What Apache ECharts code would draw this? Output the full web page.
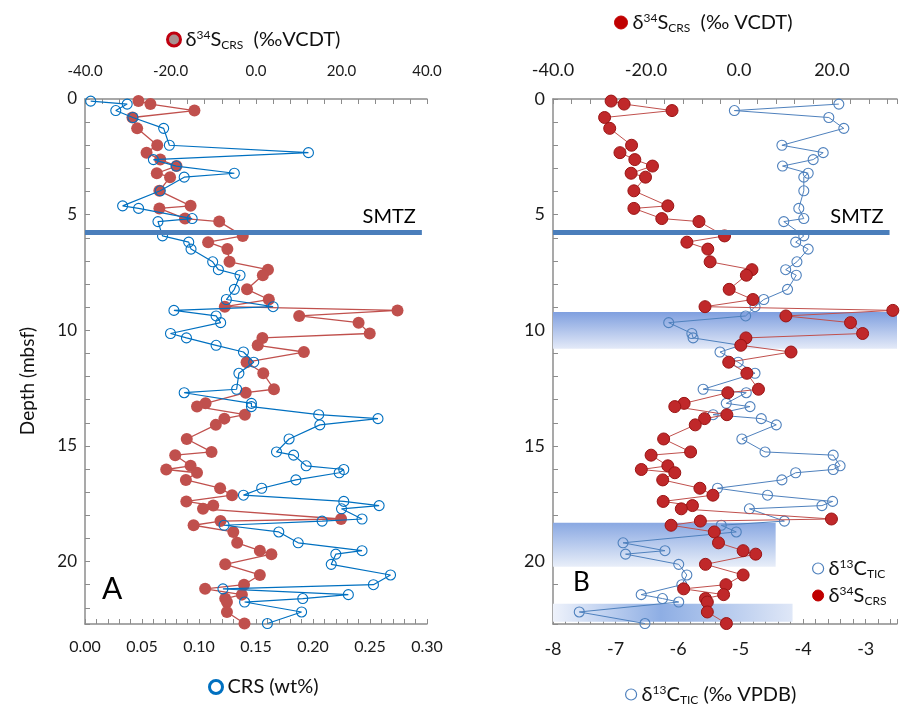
<!DOCTYPE html>
<html>
<head>
<meta charset="utf-8">
<title>Depth profiles A and B</title>
<script src="https://cdn.jsdelivr.net/npm/echarts@6/dist/echarts.min.js"></script>
<style>
  html, body { margin: 0; padding: 0; background: #fff; }
  #chart { width: 908px; height: 707px; }
</style>
</head>
<body>
<div id="chart"></div>
<script>
// sample depths (mbsf), shared by the d34S and CRS profiles
const depth = [0.09, 0.22, 0.5, 0.8, 1.27, 2.0, 2.32, 2.62, 2.9, 3.21,
    3.38, 3.97, 4.62, 4.73, 5.17, 5.3, 5.92, 6.19, 6.49, 7.04,
    7.38, 7.62, 8.23, 8.67, 8.98, 9.14, 9.38, 9.67, 10.14, 10.33,
    10.65, 10.94, 11.38, 11.86, 12.55, 12.7, 13.16, 13.3, 13.65, 13.82,
    14.09, 14.7, 15.26, 15.4, 15.86, 16.02, 16.16, 16.47, 16.83, 17.13,
    17.4, 17.58, 17.72, 18.16, 18.25, 18.43, 18.72, 19.19, 19.53, 19.68,
    20.12, 20.58, 21.0, 21.18, 21.43, 21.6, 21.75, 22.18, 22.68];

const d34S = [-27.5, -24.7, -14.4, -28.9, -27.8, -23.1, -25.6, -22.4, -18.6, -23.2,
    -20.1, -22.6, -15.3, -22.6, -16.6, -8.6, -3.1, -11.2, -6.7, -6.2,
    2.8, 1.6, -2.1, 3.0, -7.3, 33.1, 10.1, 24.0, 26.6, 1.5,
    0.4, 11.2, -2.2, 1.7, 4.2, -2.4, -11.8, -13.8, -2.6, -7.4,
    -9.4, -16.2, -10.4, -18.9, -15.3, -21.0, -13.8, -16.4, -8.4, -5.6,
    -16.3, -10.0, -12.4, 19.9, -8.3, -14.6, -5.3, -4.4, 0.9, 3.6,
    -7.2, 0.9, -2.8, -11.9, -3.3, -7.2, -6.8, -6.8, -2.7];

const crs = [0.005, 0.037, 0.027, 0.042, 0.069, 0.074, 0.196, 0.060, 0.080, 0.131,
    0.087, 0.066, 0.033, 0.047, 0.094, 0.064, 0.068, 0.091, 0.093, 0.112,
    0.117, 0.136, 0.131, 0.124, 0.165, 0.078, 0.115, 0.119, 0.075, 0.089,
    0.115, 0.139, 0.148, 0.135, 0.133, 0.087, 0.146, 0.146, 0.205, 0.257,
    0.206, 0.179, 0.168, 0.183, 0.194, 0.227, 0.223, 0.185, 0.155, 0.139,
    0.227, 0.258, 0.225, 0.243, 0.208, 0.122, 0.170, 0.187, 0.243, 0.220,
    0.216, 0.268, 0.253, 0.121, 0.231, 0.191, 0.140, 0.190, 0.160];

// d13C was not measured on every sample
const depthC = [0.22, 0.5, 0.8, 1.27, 2.0, 2.32, 2.62, 2.9, 3.21, 3.38,
    3.97, 4.73, 5.17, 5.3, 5.92, 6.19, 6.49, 7.04, 7.38, 7.62,
    8.23, 8.67, 8.98, 9.38, 9.67, 10.14, 10.33, 10.65, 10.94, 11.38,
    11.86, 12.55, 12.7, 13.16, 13.3, 13.65, 13.82, 14.09, 14.7, 15.26,
    15.4, 15.86, 16.02, 16.16, 16.47, 16.83, 17.13, 17.4, 17.58, 17.72,
    18.25, 18.43, 18.72, 19.19, 19.53, 19.68, 20.12, 20.58, 21.0, 21.43,
    21.6, 21.75, 22.18, 22.68];

const d13C = [-3.43, -5.10, -3.59, -3.35, -4.34, -3.68, -3.84, -4.33, -3.92, -3.99,
    -3.99, -4.07, -3.99, -4.31, -3.99, -4.12, -3.92, -4.10, -4.28, -4.11,
    -4.25, -4.63, -4.77, -4.92, -6.15, -5.78, -5.76, -5.00, -5.33, -5.04,
    -4.77, -5.60, -4.91, -5.23, -4.85, -5.44, -4.67, -4.43, -4.98, -4.61,
    -3.52, -3.41, -3.52, -4.12, -4.34, -5.37, -4.57, -3.53, -3.70, -4.86,
    -4.30, -5.31, -5.07, -6.88, -6.21, -6.84, -5.99, -5.86, -5.94, -6.59,
    -6.25, -5.99, -7.58, -6.53];

const smtzDepth = 5.77;

// shaded intervals of panel B (depth range and d13C range)
const bandTop = [9.21, 18.32, 21.82];
const bandBottom = [10.8, 20.22, 22.6];
const bandRight = [-2.33, -4.44, -4.17];

// tick labels
const depthTicks = [0, 5, 10, 15, 20];
const sTicks = [-40, -20, 0, 20, 40];
const crsTicks = [0, 0.05, 0.1, 0.15, 0.2, 0.25, 0.3];
const cTicks = [-8, -7, -6, -5, -4, -3];

const font = 'Lato, "Open Sans", sans-serif';
const axisGrey = '#8c8c8c';
const noFill = 'rgba(255,255,255,0)';

function pairs(xs, ys) {
    return xs.map((x, i) => [x, ys[i]]);
}

function axis(base, labels, digits, size, margin) {
    return Object.assign({
        type: 'value',
        axisLine: { show: true, onZero: false, lineStyle: { color: axisGrey, width: 1.5 } },
        axisTick: { show: true, inside: true, length: 5, lineStyle: { color: axisGrey, width: 1 } },
        splitLine: { show: false },
        axisLabel: {
            margin: margin,
            fontSize: size,
            color: '#1a1a1a',
            fontFamily: font,
            formatter: v => {
                const t = labels.find(t => Math.abs(t - v) < 1e-6);
                return t === undefined ? '' : t.toFixed(digits);
            }
        }
    }, base);
}

function smtz(rightEnd) {
    return {
        silent: true,
        symbol: 'none',
        lineStyle: { color: '#4a7ebb', width: 5, type: 'solid' },
        label: { show: true, position: 'insideEndTop', formatter: 'SMTZ', fontSize: 20, color: '#000', fontFamily: font, distance: 6 },
        data: [[{ coord: [-40, smtzDepth] }, { coord: [rightEnd, smtzDepth] }]]
    };
}

const vGrad = (a, b) => new echarts.graphic.LinearGradient(0, 0, 0, 1, [
    { offset: 0, color: a }, { offset: 1, color: b }]);
const bandColors = [
    vGrad('#7f9fdf', '#e4eaf8'),
    vGrad('#89a8e2', '#e8eef9'),
    new echarts.graphic.LinearGradient(0, 0, 1, 0, [
        { offset: 0, color: '#eef2fb' }, { offset: 0.45, color: '#8eaee4' }, { offset: 1, color: '#dfe7f7' }])
];

const rich = {
    g: { fontSize: 20, fontFamily: font, color: '#111' },
    sup: { fontSize: 12, fontFamily: font, color: '#111', padding: [0, 0, 9, 0] },
    sub: { fontSize: 12, fontFamily: font, color: '#111', padding: [11, 0, 0, 0] }
};
const legendBase = {
    selectedMode: false,
    itemWidth: 13,
    itemHeight: 13,
    textStyle: { fontSize: 20, color: '#111', fontFamily: font, rich: rich }
};

const chart = echarts.init(document.getElementById('chart'));
chart.setOption({
    animation: false,
    backgroundColor: '#fff',
    textStyle: { fontFamily: font },
    grid: [
        { left: 85, top: 99, width: 342, height: 525 },
        { left: 553, top: 99, width: 344, height: 525 }
    ],
    xAxis: [
        axis({ gridIndex: 0, position: 'top', min: -40, max: 40, interval: 4 }, sTicks, 1, 15, 20),
        axis({ gridIndex: 0, position: 'bottom', min: 0, max: 0.3, interval: 0.01 }, crsTicks, 2, 16, 15),
        axis({ gridIndex: 1, position: 'top', min: -40, max: 34, interval: 4 }, sTicks, 1, 18, 20),
        axis({ gridIndex: 1, position: 'bottom', min: -8, max: -2.5, interval: 0.2 }, cTicks, 0, 18, 16)
    ],
    yAxis: [
        axis({ gridIndex: 0, inverse: true, min: 0, max: 22.7, interval: 1 }, depthTicks, 0, 17, 8),
        axis({ gridIndex: 1, inverse: true, min: 0, max: 22.7, interval: 1 }, depthTicks, 0, 18, 8)
    ],
    legend: [
        Object.assign({}, legendBase, {
            left: 161, top: 24,
            data: [{ name: 'S34A', icon: 'circle', itemStyle: { color: '#a99090', borderColor: '#c00010', borderWidth: 3 } }],
            formatter: () => '{g|δ}{sup|34}{g|S}{sub|CRS}{g|  (‰VCDT)}'
        }),
        Object.assign({}, legendBase, {
            left: 203, top: 672,
            data: [{ name: 'CRS', icon: 'circle', itemStyle: { color: '#fff', borderColor: '#0070c0', borderWidth: 3 } }],
            formatter: () => '{g|CRS (wt%)}'
        }),
        Object.assign({}, legendBase, {
            left: 609, top: 7,
            data: [{ name: 'S34B', icon: 'circle', itemStyle: { color: '#c00000', borderColor: '#c00000', borderWidth: 1 } }],
            formatter: () => '{g|δ}{sup|34}{g|S}{sub|CRS}{g|  (‰ VCDT)}'
        }),
        Object.assign({}, legendBase, {
            left: 620, top: 679, itemWidth: 11, itemHeight: 11,
            data: [{ name: 'C13B', icon: 'circle', itemStyle: { color: '#fff', borderColor: '#4f81bd', borderWidth: 1.2 } }],
            formatter: () => '{g|δ}{sup|13}{g|C}{sub|TIC}{g| (‰ VPDB)}'
        }),
        Object.assign({}, legendBase, {
            left: 807, top: 553, orient: 'vertical', itemGap: 5, itemWidth: 11, itemHeight: 11,
            data: [
                { name: 'C13B', icon: 'circle', itemStyle: { color: '#fff', borderColor: '#4f81bd', borderWidth: 1.2 } },
                { name: 'S34B', icon: 'circle', itemStyle: { color: '#c00000', borderColor: '#c00000', borderWidth: 1 } }
            ],
            formatter: name => name === 'C13B' ? '{g|δ}{sup|13}{g|C}{sub|TIC}' : '{g|δ}{sup|34}{g|S}{sub|CRS}'
        })
    ],
    graphic: [
        { type: 'text', x: 28, y: 381, rotation: Math.PI / 2,
          style: { text: 'Depth (mbsf)', align: 'center', verticalAlign: 'middle', fontSize: 19, fontFamily: font, fill: '#111' } },
        { type: 'text', left: 102, top: 574, style: { text: 'A', fontSize: 30, fontFamily: font, fill: '#000' } },
        { type: 'text', left: 573, top: 570, style: { text: 'B', fontSize: 26, fontFamily: font, fill: '#000' } }
    ],
    series: [
        { type: 'scatter', name: 'smtzA', xAxisIndex: 0, yAxisIndex: 0, data: [], z: 1, silent: true, markLine: smtz(38.8) },
        { type: 'scatter', name: 'smtzB', xAxisIndex: 2, yAxisIndex: 1, data: [], z: 1, silent: true, markLine: smtz(32.4) },
        {
            type: 'scatter', name: 'bands', xAxisIndex: 3, yAxisIndex: 1, data: [], z: 0, silent: true, clip: false,
            markArea: {
                silent: true,
                data: bandTop.map((top, i) => [
                    { coord: [-8, top], itemStyle: { color: bandColors[i] } },
                    { coord: [bandRight[i], bandBottom[i]] }
                ])
            }
        },
        {
            type: 'line', name: 'S34A', xAxisIndex: 0, yAxisIndex: 0, z: 3,
            data: pairs(d34S, depth),
            symbol: 'circle', symbolSize: 12,
            itemStyle: { color: '#c0504d' },
            lineStyle: { color: '#c0504d', width: 1.3 }
        },
        {
            type: 'line', name: 'CRS', xAxisIndex: 1, yAxisIndex: 0, z: 4,
            data: pairs(crs, depth),
            symbol: 'circle', symbolSize: 10,
            itemStyle: { color: noFill, borderColor: '#0070c0', borderWidth: 1.1 },
            lineStyle: { color: '#0070c0', width: 1.2 }
        },
        {
            type: 'line', name: 'C13B', xAxisIndex: 3, yAxisIndex: 1, z: 3,
            data: pairs(d13C, depthC),
            symbol: 'circle', symbolSize: 10,
            itemStyle: { color: noFill, borderColor: '#4f81bd', borderWidth: 1.1 },
            lineStyle: { color: '#4f81bd', width: 1 }
        },
        {
            type: 'line', name: 'S34B', xAxisIndex: 2, yAxisIndex: 1, z: 4,
            data: pairs(d34S, depth),
            symbol: 'circle', symbolSize: 12,
            itemStyle: { color: '#c0282a', borderColor: '#9a1414', borderWidth: 1 },
            lineStyle: { color: '#c0504d', width: 1 }
        }
    ]
});
</script>
</body>
</html>
